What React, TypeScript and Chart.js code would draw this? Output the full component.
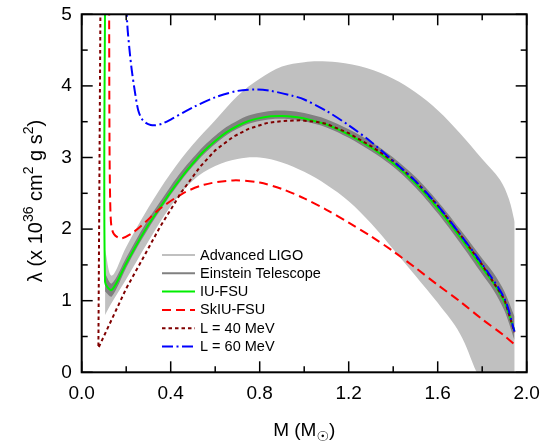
import { useEffect, useRef } from "react";
import { Chart, registerables } from "chart.js";
Chart.register(...registerables);

const FONT = "'Liberation Sans', Arial, sans-serif";

// ---- Advanced LIGO band (light gray) ----
const ligoUpperM = [0.105, 0.135, 0.2, 0.3, 0.4, 0.5, 0.6, 0.7, 0.8, 0.9, 1.0, 1.06, 1.15, 1.28, 1.4, 1.5, 1.6, 1.7, 1.8, 1.88, 1.92, 1.946];
const ligoUpperL = [1.71, 1.35, 1.75, 2.30, 2.78, 3.18, 3.52, 3.86, 4.10, 4.27, 4.33, 4.345, 4.33, 4.25, 4.10, 3.91, 3.66, 3.34, 2.98, 2.69, 2.42, 2.10];
const ligoLowerM = [0.105, 0.135, 0.2, 0.3, 0.4, 0.5, 0.6, 0.7, 0.8, 0.9, 1.0, 1.1, 1.2, 1.3, 1.4, 1.5, 1.6, 1.7, 1.775, 1.85, 1.946];
const ligoLowerL = [0.80, 0.97, 1.30, 1.83, 2.32, 2.68, 2.88, 2.98, 3.00, 2.93, 2.80, 2.62, 2.39, 2.08, 1.72, 1.35, 0.97, 0.54, 0.0, -0.5, -1.1];

// ---- Einstein Telescope band (dark gray) ----
const etM = [0.105, 0.135, 0.2, 0.25, 0.3, 0.35, 0.4, 0.45, 0.5, 0.55, 0.6, 0.65, 0.7, 0.75, 0.8, 0.85, 0.9, 0.95, 1.0, 1.1, 1.2, 1.3, 1.4, 1.5, 1.6, 1.7, 1.8, 1.85, 1.9, 1.945];
const etUpperL = [1.38, 1.24, 1.60, 1.88, 2.14, 2.37, 2.60, 2.81, 2.995, 3.165, 3.305, 3.425, 3.515, 3.585, 3.625, 3.65, 3.655, 3.645, 3.62, 3.535, 3.395, 3.22, 3.00, 2.73, 2.39, 2.00, 1.59, 1.39, 1.13, 0.78];
const etLowerL = [1.13, 1.06, 1.46, 1.75, 2.01, 2.25, 2.48, 2.69, 2.88, 3.05, 3.19, 3.31, 3.40, 3.47, 3.51, 3.535, 3.54, 3.53, 3.505, 3.42, 3.275, 3.09, 2.87, 2.58, 2.22, 1.81, 1.37, 1.15, 0.86, 0.45];

// ---- IU-FSU (green) ----
const iuM = [0.105, 0.105, 0.135, 0.2, 0.25, 0.3, 0.35, 0.4, 0.45, 0.5, 0.55, 0.6, 0.65, 0.7, 0.75, 0.8, 0.85, 0.9, 0.95, 1.0, 1.1, 1.2, 1.3, 1.4, 1.5, 1.6, 1.7, 1.8, 1.85, 1.9, 1.945];
const iuL = [5.5, 1.26, 1.15, 1.52, 1.80, 2.06, 2.29, 2.52, 2.73, 2.92, 3.09, 3.23, 3.35, 3.44, 3.51, 3.55, 3.575, 3.58, 3.57, 3.545, 3.46, 3.32, 3.14, 2.92, 2.64, 2.29, 1.89, 1.46, 1.25, 0.98, 0.58];

// ---- SkIU-FSU (red dashed) ----
const skM = [0.123, 0.125, 0.128, 0.133, 0.145, 0.175, 0.22, 0.28, 0.35, 0.45, 0.55, 0.68, 0.8, 0.9, 1.0, 1.1, 1.2, 1.3, 1.4, 1.5, 1.6, 1.7, 1.8, 1.9, 1.955];
const skL = [5.5, 3.2, 2.4, 2.05, 1.93, 1.87, 1.93, 2.08, 2.28, 2.49, 2.62, 2.68, 2.65, 2.56, 2.43, 2.27, 2.09, 1.90, 1.69, 1.46, 1.22, 0.99, 0.74, 0.51, 0.36];

// ---- L = 40 MeV (maroon dotted) ----
const l40M = [0.085, 0.075, 0.2, 0.28, 0.352, 0.449, 0.532, 0.6, 0.681, 0.75, 0.831, 0.9, 0.981, 1.05, 1.1, 1.2, 1.3, 1.4, 1.5, 1.6, 1.7, 1.8, 1.9, 1.945];
const l40L = [5.5, 0.34, 1.17, 1.62, 2.03, 2.52, 2.87, 3.10, 3.29, 3.40, 3.48, 3.51, 3.52, 3.50, 3.47, 3.34, 3.16, 2.95, 2.67, 2.33, 1.93, 1.50, 1.02, 0.56];

// ---- L = 60 MeV (blue dash-dot) ----
const l60M = [0.197, 0.205, 0.215, 0.225, 0.24, 0.254, 0.27, 0.29, 0.31, 0.33, 0.36, 0.4, 0.5, 0.6, 0.7, 0.78, 0.85, 0.95, 1.0, 1.1, 1.2, 1.3, 1.4, 1.5, 1.6, 1.7, 1.8, 1.9, 1.945];
const l60L = [5.4, 4.85, 4.5, 4.22, 3.9, 3.66, 3.54, 3.48, 3.455, 3.45, 3.47, 3.53, 3.70, 3.84, 3.93, 3.95, 3.93, 3.86, 3.81, 3.65, 3.45, 3.22, 2.95, 2.67, 2.33, 1.93, 1.51, 1.03, 0.57];

// ---- axes ----
const xMajorTicks = [0, 0.4, 0.8, 1.2, 1.6, 2.0];
const xMinorTicks = [0.2, 0.6, 1.0, 1.4, 1.8];
const yMajorTicks = [0, 1, 2, 3, 4, 5];
const yMinorTicks = [0.5, 1.5, 2.5, 3.5, 4.5];

// ---- legend ----
const legendLabels = ["Advanced LIGO", "Einstein Telescope", "IU-FSU", "SkIU-FSU", "L = 40 MeV", "L = 60 MeV"];
const legendColors = ["#c0c0c0", "#808080", "#00ee00", "#ff0000", "#800000", "#0000ff"];
const legendDashes: number[][] = [[], [], [], [9, 5], [3.5, 3], [11, 3.5, 2, 3.5]];

function pts(m: number[], l: number[]) {
  return m.map((x, i) => ({ x, y: l[i] }));
}

const CLEAR = "rgba(0,0,0,0)";

const framePlugin = {
  id: "frame",
  afterDatasetsDraw(chart: any) {
    const { ctx, chartArea: a, scales } = chart;
    const xs = scales.x;
    const ys = scales.y;
    ctx.save();
    ctx.strokeStyle = "#000";
    ctx.lineWidth = 1.5;
    ctx.setLineDash([]);
    const tick = (x1: number, y1: number, x2: number, y2: number) => {
      ctx.beginPath();
      ctx.moveTo(x1, y1);
      ctx.lineTo(x2, y2);
      ctx.stroke();
    };
    const big = 11;
    const small = 6;
    xMajorTicks.forEach((v) => {
      const p = xs.getPixelForValue(v);
      tick(p, a.bottom, p, a.bottom - big);
      tick(p, a.top, p, a.top + big);
    });
    xMinorTicks.forEach((v) => {
      const p = xs.getPixelForValue(v);
      tick(p, a.bottom, p, a.bottom - small);
      tick(p, a.top, p, a.top + small);
    });
    yMajorTicks.forEach((v) => {
      const p = ys.getPixelForValue(v);
      tick(a.left, p, a.left + big, p);
      tick(a.right, p, a.right - big, p);
    });
    yMinorTicks.forEach((v) => {
      const p = ys.getPixelForValue(v);
      tick(a.left, p, a.left + small, p);
      tick(a.right, p, a.right - small, p);
    });
    ctx.lineWidth = 2;
    ctx.strokeRect(a.left, a.top, a.right - a.left, a.bottom - a.top);
    ctx.restore();
  },
};

const legendPlugin = {
  id: "customLegend",
  afterDraw(chart: any) {
    const { ctx } = chart;
    ctx.save();
    const x0 = 162;
    const x1 = 195;
    const tx = 200;
    const y0 = 255;
    const dy = 18.3;
    ctx.font = `14.5px ${FONT}`;
    ctx.textBaseline = "middle";
    ctx.textAlign = "left";
    legendLabels.forEach((lab, i) => {
      const y = y0 + i * dy;
      ctx.strokeStyle = legendColors[i];
      ctx.lineWidth = 2;
      ctx.setLineDash(legendDashes[i]);
      ctx.beginPath();
      ctx.moveTo(x0, y);
      ctx.lineTo(x1, y);
      ctx.stroke();
      ctx.setLineDash([]);
      ctx.fillStyle = "#000";
      ctx.fillText(lab, tx, y + 0.5);
    });
    ctx.restore();
  },
};

type Part = { t: string; size: number; dy: number; family?: string };

function drawRich(ctx: CanvasRenderingContext2D, parts: Part[]) {
  let total = 0;
  const widths = parts.map((p) => {
    ctx.font = `${p.size}px ${p.family || FONT}`;
    const w = ctx.measureText(p.t).width;
    total += w;
    return w;
  });
  let x = -total / 2;
  parts.forEach((p, i) => {
    ctx.font = `${p.size}px ${p.family || FONT}`;
    ctx.fillText(p.t, x, p.dy);
    x += widths[i];
  });
}

const titlePlugin = {
  id: "axisTitles",
  afterDraw(chart: any) {
    const { ctx, chartArea: a } = chart;
    ctx.save();
    ctx.fillStyle = "#000";
    ctx.textBaseline = "alphabetic";
    ctx.textAlign = "left";
    // x title
    ctx.save();
    ctx.translate((a.left + a.right) / 2, 436);
    drawRich(ctx, [
      { t: "M (M", size: 19, dy: 0 },
      { t: "\u2609", size: 14, dy: 5, family: "'DejaVu Sans', sans-serif" },
      { t: ")", size: 19, dy: 0 },
    ]);
    ctx.restore();
    // y title
    ctx.save();
    ctx.translate(41.5, 201);
    ctx.rotate(-Math.PI / 2);
    drawRich(ctx, [
      { t: "\u03bb (x 10", size: 20, dy: 0 },
      { t: "36", size: 14, dy: -9 },
      { t: " cm", size: 20, dy: 0 },
      { t: "2", size: 14, dy: -9 },
      { t: " g s", size: 20, dy: 0 },
      { t: "2", size: 14, dy: -9 },
      { t: ")", size: 20, dy: 0 },
    ]);
    ctx.restore();
    ctx.restore();
  },
};

export default function App() {
  const ref = useRef<HTMLCanvasElement>(null);
  useEffect(() => {
    const chart = new Chart(ref.current as HTMLCanvasElement, {
      type: "line",
      data: {
        datasets: [
          { label: "ligoUpper", data: pts(ligoUpperM, ligoUpperL), borderColor: CLEAR, borderWidth: 0, backgroundColor: "#c0c0c0", fill: "+1", order: 10, tension: 0.35 },
          { label: "ligoLower", data: pts(ligoLowerM, ligoLowerL), borderColor: CLEAR, borderWidth: 0, fill: false, order: 11, tension: 0.35 },
          { label: "etUpper", data: pts(etM, etUpperL), borderColor: CLEAR, borderWidth: 0, backgroundColor: "#808080", fill: "+1", order: 8, tension: 0.3 },
          { label: "etLower", data: pts(etM, etLowerL), borderColor: CLEAR, borderWidth: 0, fill: false, order: 9, tension: 0.3 },
          { label: legendLabels[2], data: pts(iuM, iuL), borderColor: legendColors[2], borderWidth: 2, fill: false, order: 4, tension: 0.3 },
          { label: legendLabels[3], data: pts(skM, skL), borderColor: legendColors[3], borderWidth: 2, borderDash: legendDashes[3], fill: false, order: 3, tension: 0.3 },
          { label: legendLabels[4], data: pts(l40M, l40L), borderColor: legendColors[4], borderWidth: 2, borderDash: legendDashes[4], fill: false, order: 2 },
          { label: legendLabels[5], data: pts(l60M, l60L), borderColor: legendColors[5], borderWidth: 2, borderDash: legendDashes[5], fill: false, order: 1, tension: 0.3 },
        ] as any,
      },
      options: {
        responsive: false,
        animation: false,
        events: [],
        layout: { padding: { top: 14.3, right: 16.3, left: 0, bottom: 0 } },
        plugins: { legend: { display: false }, tooltip: { enabled: false } },
        elements: { point: { radius: 0 }, line: { tension: 0 } },
        scales: {
          x: {
            type: "linear",
            min: 0,
            max: 2,
            grid: { display: false, drawTicks: false },
            border: { display: false },
            ticks: {
              stepSize: 0.4,
              autoSkip: false,
              maxRotation: 0,
              color: "#000",
              padding: 10,
              font: { family: FONT, size: 19 },
              callback: (v: any) => Number(v).toFixed(1),
            },
            afterFit: (s: any) => {
              s.height = 73.7;
              s.paddingLeft = 0;
              s.paddingRight = 0;
            },
          },
          y: {
            type: "linear",
            min: 0,
            max: 5,
            grid: { display: false, drawTicks: false },
            border: { display: false },
            ticks: {
              stepSize: 1,
              color: "#000",
              padding: 10,
              font: { family: FONT, size: 19 },
              callback: (v: any) => String(v),
            },
            afterFit: (s: any) => {
              s.width = 81.7;
              s.paddingTop = 0;
              s.paddingBottom = 0;
            },
          },
        },
      } as any,
      plugins: [framePlugin, legendPlugin, titlePlugin],
    });
    return () => chart.destroy();
  }, []);
  return (
    <div style={{ position: "fixed", left: 0, top: 0, width: 543, height: 446, background: "#fff" }}>
      <canvas ref={ref} width={543} height={446} style={{ display: "block" }} />
    </div>
  );
}
